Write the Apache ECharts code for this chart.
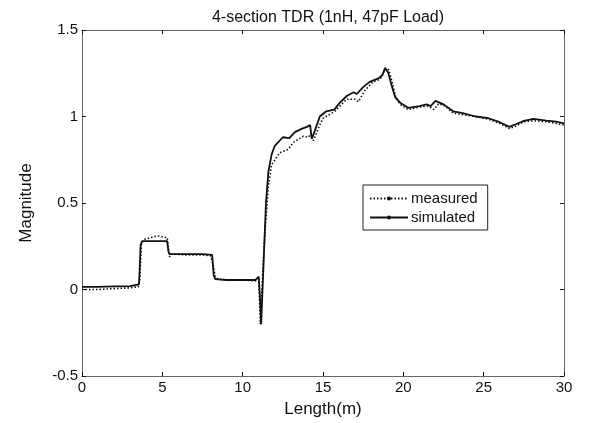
<!DOCTYPE html>
<html>
<head>
<meta charset="utf-8">
<script src="https://cdn.jsdelivr.net/npm/echarts@6/dist/echarts.min.js"></script>
<style>html,body{margin:0;padding:0;background:#fff}#c{width:594px;height:423px}</style>
</head>
<body>
<div id="c"></div>
<script>
var titleText = '4-section TDR (1nH, 47pF Load)';
var xAxisName = 'Length(m)';
var yAxisName = 'Magnitude';
var xTicks = [0, 5, 10, 15, 20, 25, 30];
var yTicks = [-0.5, 0, 0.5, 1, 1.5];

var simX = [0, 1, 2, 3, 3.55, 3.65, 3.75, 4.5, 5.3, 5.38, 5.45, 6.5, 7.5, 8.1, 8.2, 8.3, 9, 10, 10.8, 11.0, 11.08, 11.15, 11.3, 11.45, 11.6, 11.8, 12.0, 12.5, 12.9, 13.25, 13.7, 14.0, 14.2, 14.3, 14.5, 14.8, 15.2, 15.7, 16.05, 16.5, 16.9, 17.1, 17.5, 17.9, 18.45, 18.7, 18.86, 19.05, 19.3, 19.5, 19.8, 20.3, 21.0, 21.45, 21.7, 22.0, 22.5, 23.1, 23.7, 24.5, 25.3, 26.0, 26.6, 27.0, 27.5, 28.1, 28.9, 29.5, 30];
var simY = [0.015, 0.015, 0.018, 0.02, 0.03, 0.26, 0.28, 0.28, 0.28, 0.22, 0.205, 0.205, 0.205, 0.2, 0.08, 0.06, 0.055, 0.055, 0.055, 0.075, -0.05, -0.2, 0.15, 0.5, 0.68, 0.78, 0.83, 0.88, 0.875, 0.91, 0.93, 0.94, 0.95, 0.87, 0.92, 1.0, 1.03, 1.04, 1.08, 1.12, 1.14, 1.13, 1.17, 1.2, 1.22, 1.24, 1.28, 1.255, 1.17, 1.11, 1.08, 1.05, 1.06, 1.07, 1.06, 1.09, 1.07, 1.03, 1.02, 1.0, 0.99, 0.967, 0.94, 0.955, 0.975, 0.986, 0.976, 0.97, 0.96];

var meaX = [0, 1, 2, 3, 3.5, 3.6, 3.7, 3.9, 4.3, 4.7, 5.0, 5.3, 5.35, 5.45, 5.6, 6.5, 7.5, 8.0, 8.15, 8.3, 8.5, 9, 10, 10.8, 11.0, 11.1, 11.2, 11.4, 11.6, 11.8, 12.3, 12.84, 13.15, 13.77, 14.08, 14.25, 14.4, 14.7, 15.0, 15.74, 16.47, 17.0, 17.2, 17.6, 18.1, 18.55, 18.75, 18.9, 19.1, 19.3, 19.5, 19.8, 20.3, 21.0, 21.5, 21.75, 21.9, 22.2, 22.6, 23.1, 23.7, 24.5, 25.3, 26.0, 26.6, 27.0, 27.5, 28.1, 28.9, 29.5, 30];
var meaY = [0.0, 0.0, 0.005, 0.01, 0.015, 0.06, 0.27, 0.29, 0.30, 0.31, 0.305, 0.30, 0.26, 0.19, 0.205, 0.2, 0.2, 0.195, 0.15, 0.07, 0.06, 0.055, 0.055, 0.05, 0.06, -0.2, 0.0, 0.35, 0.60, 0.72, 0.79, 0.81, 0.85, 0.886, 0.88, 0.9, 0.86, 0.93, 0.99, 1.03, 1.10, 1.10, 1.085, 1.15, 1.2, 1.215, 1.25, 1.28, 1.27, 1.2, 1.12, 1.07, 1.04, 1.055, 1.06, 1.05, 1.04, 1.075, 1.06, 1.02, 1.01, 1.0, 0.985, 0.96, 0.93, 0.945, 0.97, 0.975, 0.97, 0.96, 0.95];

function pairs(xs, ys) { var out = []; for (var i = 0; i < xs.length; i++) out.push([xs[i], ys[i]]); return out; }

var font = 'Liberation Sans, Arial, sans-serif';
var chart = echarts.init(document.getElementById('c'), null, {renderer: 'canvas'});
function xAx(pos, showLabel) {
  return {
    type: 'value', position: pos, min: xTicks[0], max: xTicks[xTicks.length-1], interval: 5,
    name: showLabel ? xAxisName : '', nameLocation: 'middle', nameGap: 25,
    nameTextStyle: {fontFamily: font, fontSize: 17, color: '#111'},
    axisLine: {show: true, onZero: false, lineStyle: {color: '#666', width: 1}},
    axisTick: {show: true, inside: true, length: 4, lineStyle: {color: '#111', width: 1}},
    axisLabel: {show: showLabel, fontFamily: font, fontSize: 15, color: '#111', margin: 4},
    splitLine: {show: false}
  };
}
function yAx(pos, showLabel) {
  return {
    type: 'value', position: pos, min: yTicks[0], max: yTicks[yTicks.length-1], interval: 0.5,
    name: showLabel ? yAxisName : '', nameLocation: 'middle', nameGap: 47,
    nameTextStyle: {fontFamily: font, fontSize: 17, color: '#111'},
    axisLine: {show: true, onZero: false, lineStyle: {color: '#666', width: 1}},
    axisTick: {show: true, inside: true, length: 4, lineStyle: {color: '#111', width: 1}},
    axisLabel: {show: showLabel, fontFamily: font, fontSize: 15, color: '#111', margin: 4},
    splitLine: {show: false}
  };
}
chart.setOption({
  animation: false,
  backgroundColor: '#fff',
  title: {text: titleText, left: 323, textAlign: 'center', top: 5,
    textStyle: {fontFamily: font, fontSize: 16, fontWeight: 'normal', color: '#111'}},
  grid: {left: 82, right: 30, top: 30, bottom: 45},
  legend: {
    orient: 'vertical', left: 363, top: 185, padding: [6, 10, 5, 6], itemGap: 4,
    itemWidth: 38, itemHeight: 5,
    borderColor: '#222', borderWidth: 1, backgroundColor: '#fff',
    textStyle: {fontFamily: font, fontSize: 15, color: '#111', padding: [0, 0, 0, -2]},
    data: ['measured', 'simulated']
  },
  xAxis: [xAx('bottom', true), xAx('top', false)],
  yAxis: [yAx('left', true), yAx('right', false)],
  series: [
    {name: 'measured', type: 'line', data: pairs(meaX, meaY), showSymbol: false, symbol: 'circle', symbolSize: 3,
     itemStyle: {color: '#111'}, lineStyle: {color: '#111', width: 1.6, type: [1.5, 2]}},
    {name: 'simulated', type: 'line', data: pairs(simX, simY), showSymbol: false, symbol: 'circle', symbolSize: 3,
     itemStyle: {color: '#111'}, lineStyle: {color: '#111', width: 1.8}}
  ]
});
</script>
</body>
</html>
